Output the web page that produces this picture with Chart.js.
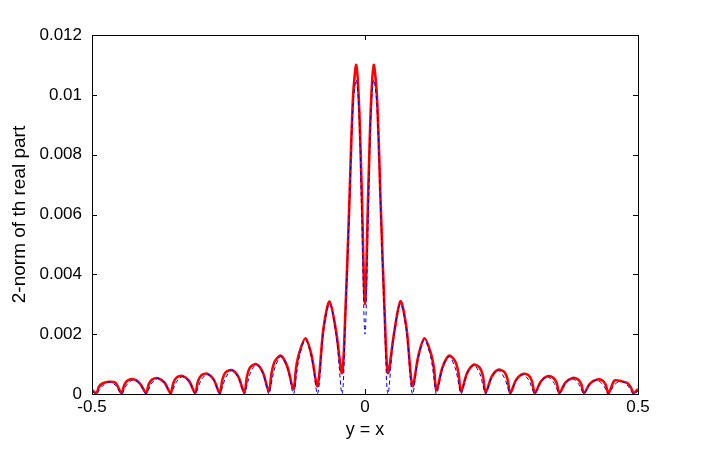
<!DOCTYPE html>
<html>
<head>
<meta charset="utf-8">
<script src="https://cdn.jsdelivr.net/npm/chart.js@4.4.1/dist/chart.umd.min.js"></script>
<style>
  html, body { margin: 0; padding: 0; background: #fff; }
  canvas { display: block; }
</style>
</head>
<body>
<canvas id="graf_norm" width="706" height="449"></canvas>
<script>
// positions along the line y = x
const xVals = [
    -0.5,
    -0.492, -0.487, -0.480, -0.469, -0.457,
    -0.446, -0.441, -0.435, -0.424, -0.412,
    -0.401, -0.396, -0.390, -0.379, -0.367,
    -0.356, -0.351, -0.345, -0.334, -0.322,
    -0.311, -0.306, -0.300, -0.289, -0.277,
    -0.266, -0.261, -0.255, -0.244, -0.232,
    -0.221, -0.216, -0.210, -0.199, -0.187,
    -0.176, -0.171, -0.165, -0.154, -0.142,
    -0.131, -0.126, -0.120, -0.109, -0.098,
    -0.087, -0.076, -0.065, -0.053,
    -0.042, -0.036, -0.029, -0.022, -0.016, -0.011, -0.006,
    0,
    0.006, 0.011, 0.016, 0.022, 0.029, 0.036, 0.042,
    0.053, 0.065, 0.076, 0.087,
    0.098, 0.109, 0.120, 0.126, 0.131,
    0.142, 0.154, 0.165, 0.171, 0.176,
    0.187, 0.199, 0.210, 0.216, 0.221,
    0.232, 0.244, 0.255, 0.261, 0.266,
    0.277, 0.289, 0.300, 0.306, 0.311,
    0.322, 0.334, 0.345, 0.351, 0.356,
    0.367, 0.379, 0.390, 0.396, 0.401,
    0.412, 0.424, 0.435, 0.441, 0.446,
    0.457, 0.469, 0.480, 0.487, 0.492,
    0.5
];
// curva roja (linea gruesa)
const redVals = [
    0.00013,
    0.00003, 0.00025, 0.00036, 0.00041, 0.00038,
    0.00003, 0.0003, 0.00045, 0.00049, 0.00035,
    0.00003, 0.00033, 0.00048, 0.00053, 0.00038,
    0.00003, 0.00037, 0.00055, 0.0006, 0.00043,
    0.00003, 0.00042, 0.00062, 0.00068, 0.00048,
    0.00003, 0.0005, 0.00073, 0.0008, 0.00058,
    0.00005, 0.0006, 0.0009, 0.001, 0.00072,
    0.00008, 0.00072, 0.0011, 0.00128, 0.0009,
    0.00015, 0.0009, 0.0014, 0.00186, 0.0013,
    0.00027, 0.0022, 0.00309, 0.0021,
    0.0007, 0.0027, 0.0062, 0.0099, 0.011, 0.0097, 0.0068,
    0.003,
    0.0068, 0.0097, 0.011, 0.0099, 0.0062, 0.0027, 0.0007,
    0.002, 0.0031, 0.0022, 0.00027,
    0.0013, 0.00186, 0.0014, 0.0009, 0.00013,
    0.0009, 0.00128, 0.0011, 0.00072, 0.00008,
    0.0007, 0.00098, 0.00088, 0.0006, 0.00005,
    0.00058, 0.00081, 0.00074, 0.0005, 0.00003,
    0.00048, 0.00067, 0.00062, 0.00042, 0.00003,
    0.00042, 0.00059, 0.00054, 0.00037, 0.00003,
    0.00038, 0.00053, 0.00049, 0.00033, 0.00003,
    0.00035, 0.00048, 0.00045, 0.0003, 0.00003,
    0.00045, 0.00043, 0.00037, 0.00022, 0.00003,
    0.00017
];
// curva azul (discontinua)
const blueVals = [
    0.0001,
    0, 0.00012, 0.00028, 0.0004, 0.00029,
    0, 0.00015, 0.00034, 0.00047, 0.00034,
    0, 0.00016, 0.00037, 0.00052, 0.00037,
    0, 0.00018, 0.00041, 0.00058, 0.00041,
    0, 0.0002, 0.00046, 0.00066, 0.00046,
    0, 0.00025, 0.00055, 0.00079, 0.00055,
    0, 0.0003, 0.00069, 0.00098, 0.00068,
    0, 0.0004, 0.00088, 0.00125, 0.00086,
    0, 0.00058, 0.00126, 0.0018, 0.00124,
    0, 0.0021, 0.003, 0.002,
    0, 0.0024, 0.006, 0.0096, 0.0105, 0.0094, 0.006,
    0.002,
    0.006, 0.0094, 0.0105, 0.0096, 0.006, 0.0024, 0,
    0.002, 0.003, 0.0021, 0,
    0.00124, 0.0018, 0.00126, 0.00058, 0,
    0.00086, 0.00125, 0.00088, 0.0004, 0,
    0.00068, 0.00096, 0.00069, 0.0003, 0,
    0.00055, 0.00079, 0.00055, 0.00025, 0,
    0.00046, 0.00065, 0.00046, 0.0002, 0,
    0.0004, 0.00057, 0.0004, 0.00018, 0,
    0.00036, 0.00051, 0.00036, 0.00016, 0,
    0.00033, 0.00046, 0.00033, 0.00015, 0,
    0.00031, 0.00043, 0.0003, 0.00012, 0,
    0.0001
];
const yTicks = [0, 0.002, 0.004, 0.006, 0.008, 0.01, 0.012];
const xTicks = [-0.5, 0, 0.5];

const fontFam = "'Liberation Sans', Arial, Helvetica, sans-serif";

/**
 * marco negro y marcas hacia adentro (estilo matlab)
 */
const marcoPlugin = {
    id: 'marco',
    afterDatasetsDraw(chart) {
        const c = chart.ctx;
        const a = chart.chartArea;
        const sx = chart.scales.x, sy = chart.scales.y;
        c.save();
        c.strokeStyle = '#000';
        c.lineWidth = 1;
        c.beginPath();
        yTicks.forEach(v => {
            const p = Math.round(sy.getPixelForValue(v)) + 0.5;
            c.moveTo(a.left, p); c.lineTo(a.left + 5, p);
            c.moveTo(a.right, p); c.lineTo(a.right - 5, p);
        });
        xTicks.forEach(v => {
            const p = Math.round(sx.getPixelForValue(v)) + 0.5;
            c.moveTo(p, a.bottom); c.lineTo(p, a.bottom - 5);
            c.moveTo(p, a.top); c.lineTo(p, a.top + 5);
        });
        c.stroke();
        c.strokeRect(Math.round(a.left) + 0.5, Math.round(a.top) + 0.5,
            Math.round(a.right - a.left), Math.round(a.bottom - a.top));
        c.restore();
    }
};

const ctx = document.getElementById('graf_norm').getContext('2d');
const chart_norma = new Chart(ctx, {
    type: 'line',
    data: {
        datasets: [{
            label: 'azul',
            data: xVals.map((x, i) => ({ x: x, y: blueVals[i] })),
            borderColor: '#0000dd',
            borderWidth: 1,
            borderDash: [4, 3],
            pointRadius: 0,
            fill: false,
            tension: 0.35,
            order: 0
        },
        {
            label: 'roja',
            data: xVals.map((x, i) => ({ x: x, y: redVals[i] })),
            borderColor: '#ff0000',
            borderWidth: 2.6,
            pointRadius: 0,
            fill: false,
            tension: 0.3,
            order: 1
        }]
    },
    options: {
        responsive: false,
        animation: false,
        devicePixelRatio: 1,
        layout: {
            padding: { left: 0, top: 35, right: 68, bottom: 0 }
        },
        scales: {
            x: {
                type: 'linear',
                min: -0.5,
                max: 0.5,
                afterFit: (scale) => { scale.height = 55; },
                afterBuildTicks: (scale) => { scale.ticks = xTicks.map(v => ({ value: v })); },
                grid: { display: false, drawTicks: false },
                border: { display: false },
                ticks: {
                    color: '#000',
                    padding: 3,
                    maxRotation: 0,
                    font: { size: 17, family: fontFam },
                    callback: (v) => String(v)
                },
                title: {
                    display: true,
                    text: 'y = x',
                    color: '#000',
                    font: { size: 18, family: fontFam },
                    padding: { top: 0, bottom: 8 }
                }
            },
            y: {
                min: 0,
                max: 0.012,
                afterFit: (scale) => { scale.width = 92; },
                afterBuildTicks: (scale) => { scale.ticks = yTicks.map(v => ({ value: v })); },
                grid: { display: false, drawTicks: false },
                border: { display: false },
                ticks: {
                    color: '#000',
                    padding: 10,
                    font: { size: 17, family: fontFam },
                    callback: (v) => String(+v.toFixed(3))
                },
                title: {
                    display: true,
                    text: '2-norm of th real part',
                    color: '#000',
                    font: { size: 19, family: fontFam },
                    padding: { top: 8, bottom: 0 }
                }
            }
        },
        plugins: {
            legend: { display: false },
            tooltip: { enabled: false }
        }
    },
    plugins: [marcoPlugin]
});
</script>
</body>
</html>
